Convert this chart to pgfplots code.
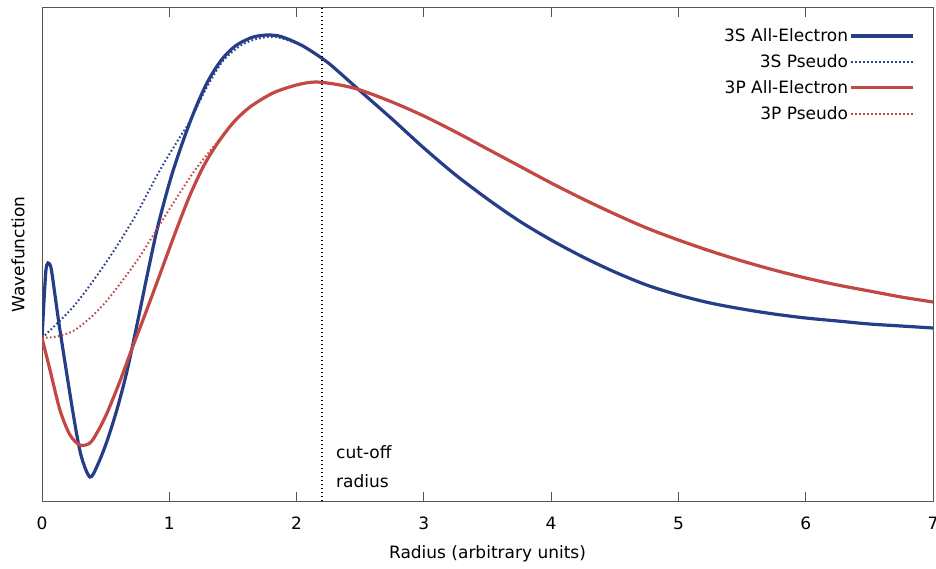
\documentclass[border=0pt]{standalone}
\usepackage{fontspec}
\setmainfont{DejaVu Sans}
\usepackage{pgfplots}
\pgfplotsset{compat=1.18}
\definecolor{aeblue}{RGB}{38,62,135}
\definecolor{aered}{RGB}{195,72,68}
\definecolor{framegray}{RGB}{85,85,85}
\begin{document}
\begin{tikzpicture}[font=\fontsize{17}{20}\selectfont]
\begin{axis}[name=ax, scale only axis, width=891pt, height=493pt,
  xmin=0, xmax=7, ymin=0, ymax=493,
  xtick={0,1,2,3,4,5,6,7}, ytick=\empty,
  tick align=inside, major tick length=9pt,
  axis line style={framegray, line width=1pt},
  every tick/.style={framegray, line width=1pt},
  /pgf/number format/assume math mode=true,
  xticklabel style={anchor=center, yshift=-22pt},
  xlabel={Radius (arbitrary units)},
  xlabel style={at={(axis description cs:0.5,-0.1075)}, anchor=center},
  ylabel={Wavefunction},
  ylabel style={at={(axis description cs:-0.027,0.5)}, anchor=center},
  legend cell align=right, legend plot pos=right,
  legend style={draw=none, fill=none, at={(rel axis cs:1,1)}, anchor=north east,
    xshift=-18pt, yshift=-19pt, inner sep=0pt, row sep=8.5pt,
    nodes={inner sep=1.5pt}},
  legend image code/.code={\draw[#1] (3pt,0pt) -- (65pt,0pt);},
]
\addplot[aeblue, line width=3.2pt, smooth] coordinates {
(0,163) (0.016,201) (0.031,231) (0.047,238) (0.071,233) (0.102,206) (0.141,171)
(0.244,88) (0.306,46) (0.377,24) (0.44,37) (0.511,60) (0.59,92) (0.668,130)
(0.754,181) (0.83,228) (0.903,271) (0.97,304) (1.029,330) (1.1,357) (1.163,379)
(1.23,400) (1.296,418) (1.36,432) (1.422,443) (1.49,452) (1.555,458) (1.66,464)
(1.767,466) (1.86,465) (1.95,461) (2.05,455) (2.15,447) (2.25,438) (2.35,427)
(2.5,410) (2.75,382) (3.0,353) (3.25,326) (3.5,302) (3.75,280) (4.0,261)
(4.25,244) (4.5,229) (4.75,216) (5.0,206) (5.25,198) (5.5,192) (5.75,187)
(6.0,183) (6.25,180) (6.5,177) (6.75,175) (7.0,173)};
\addlegendentry{3S All-Electron}
\addplot[aeblue, line width=2pt, dash pattern=on 1.6pt off 2.4pt, smooth] coordinates {
(0,163) (0.244,194) (0.479,234) (0.715,281) (0.927,331) (1.084,364) (1.163,380)
(1.296,414) (1.422,440) (1.555,455) (1.66,461) (1.767,464) (1.86,463.5) (1.95,460)
(2.05,455) (2.15,447) (2.25,438) (2.35,427)
(2.5,410) (2.75,382) (3.0,353) (3.25,326) (3.5,302) (3.75,280) (4.0,261)
(4.25,244) (4.5,229) (4.75,216) (5.0,206) (5.25,198) (5.5,192) (5.75,187)
(6.0,183) (6.25,180) (6.5,177) (6.75,175) (7.0,173)};
\addlegendentry{3S Pseudo}
\addplot[aered, line width=3.2pt, smooth] coordinates {
(0,163) (0.063,131) (0.141,91) (0.220,66) (0.299,56) (0.377,58) (0.44,70)
(0.511,88) (0.613,120) (0.7,150) (0.793,181) (0.89,214) (0.982,246) (1.07,276)
(1.163,306) (1.27,335) (1.375,357) (1.5,378) (1.634,394) (1.815,408) (2.0,416)
(2.15,419) (2.341,416) (2.5,411) (2.75,399) (3.0,385) (3.25,369) (3.5,352)
(3.75,335) (4.0,318) (4.25,302) (4.5,287) (4.75,273) (5.0,261) (5.25,250)
(5.5,240) (5.75,231) (6.0,223) (6.25,216) (6.5,210) (6.75,204) (7.0,199)};
\addlegendentry{3P All-Electron}
\addplot[aered, line width=2pt, dash pattern=on 1.6pt off 2.4pt, smooth] coordinates {
(0,163) (0.12,164.5) (0.244,170) (0.36,181) (0.48,196) (0.6,215) (0.75,241)
(0.87,265) (0.982,288) (1.186,328) (1.32,350) (1.45,370) (1.5,378) (1.634,394)
(1.815,408) (2.0,416) (2.15,419) (2.341,416) (2.5,411) (2.75,399) (3.0,385)
(3.25,369) (3.5,352) (3.75,335) (4.0,318) (4.25,302) (4.5,287) (4.75,273)
(5.0,261) (5.25,250) (5.5,240) (5.75,231) (6.0,223) (6.25,216) (6.5,210)
(6.75,204) (7.0,199)};
\addlegendentry{3P Pseudo}
\addplot[black, line width=1.2pt, dash pattern=on 1.2pt off 2.8pt, forget plot] coordinates {(2.2,0) (2.2,493)};
\node[anchor=base west, inner sep=0pt] at (axis cs:2.2,43) {\hspace{14pt}cut-off};
\node[anchor=base west, inner sep=0pt] at (axis cs:2.2,14) {\hspace{14pt}radius};
\end{axis}
\pgfresetboundingbox
\path[use as bounding box] ([xshift=-42pt,yshift=-67pt]ax.south west) rectangle ([xshift=3pt,yshift=8pt]ax.north east);
\end{tikzpicture}
\end{document}
